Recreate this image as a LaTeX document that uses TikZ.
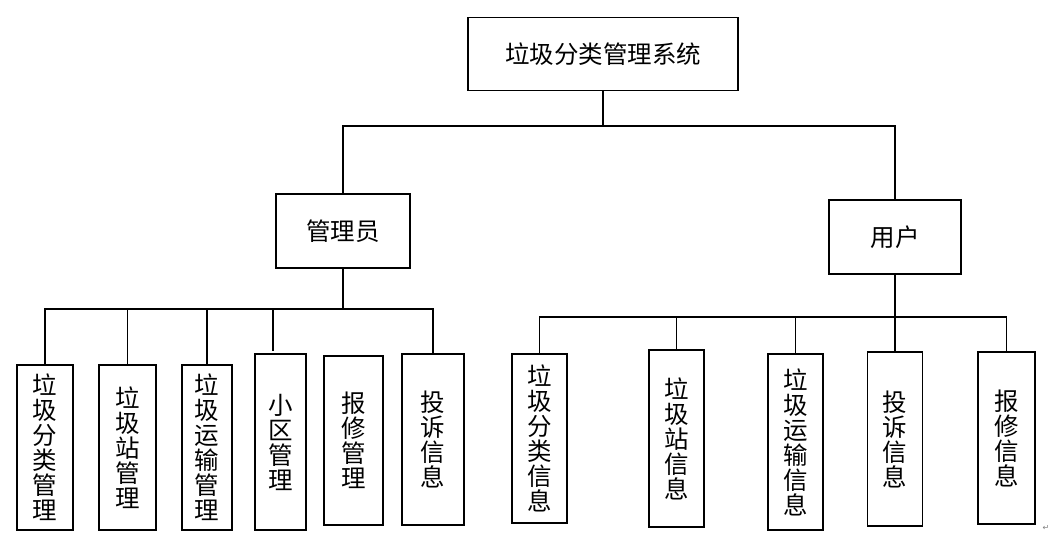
\documentclass[tikz,border=0pt]{standalone}
\usepackage{fontspec}
\newfontfamily\cjk{Noto Sans CJK SC}
\newfontfamily\symfont{DejaVu Sans}
\begin{document}
\begin{tikzpicture}[x=1pt,y=-1pt,
  box/.style={draw=black,line width=1.6pt,fill=white,inner sep=0pt,align=center,
    font=\cjk\fontsize{24.5}{25}\selectfont},
  conn/.style={draw=black,line width=1.4pt}]
\useasboundingbox[fill=white] (0,0) rectangle (1057,542);
% top
\node[box,minimum width=270,minimum height=73] (top) at (603,54) {垃圾分类管理系统};
\node[box,minimum width=134,minimum height=74] (admin) at (343,231) {管理员};
\node[box,minimum width=132,minimum height=74] (user) at (895,237) {用户};
% admin children
\node[box,minimum width=56,minimum height=165] (a1) at (45,447.5) {垃\\圾\\分\\类\\管\\理};
\node[box,minimum width=57,minimum height=165] (a2) at (127.5,447.5) {垃\\圾\\站\\管\\理};
\node[box,minimum width=50,minimum height=165] (a3) at (207,447.5) {垃\\圾\\运\\输\\管\\理};
\node[box,minimum width=51,minimum height=176] (a4) at (280.5,442) {小\\区\\管\\理};
\node[box,minimum width=59,minimum height=169] (a5) at (353.5,440.5) {报\\修\\管\\理};
\node[box,minimum width=62,minimum height=171] (a6) at (433,439.5) {投\\诉\\信\\息};
% user children
\node[box,minimum width=55,minimum height=169] (r1) at (539.5,438.5) {垃\\圾\\分\\类\\信\\息};
\node[box,minimum width=55,minimum height=177] (r2) at (676.5,438.5) {垃\\圾\\站\\信\\息};
\node[box,minimum width=55,minimum height=176] (r3) at (795.5,442) {垃\\圾\\运\\输\\信\\息};
\node[box,minimum width=55,minimum height=174] (r4) at (895,439) {投\\诉\\信\\息};
\node[box,minimum width=57,minimum height=172] (r5) at (1006.5,438) {报\\修\\信\\息};
% junctions
\coordinate (j0) at (603,126);
\coordinate (ja) at (343,309);
\coordinate (ju) at (895,317);
\coordinate (a4t) at (273,351);
% connectors
\draw[conn] (top.south) -- (j0);
\draw[conn] (j0) -| (admin.north);
\draw[conn] (j0) -| (user.north);
\draw[conn] (admin.south) -- (ja);
\draw[conn] (ja) -| (a1.north);
\draw[conn] (ja) -| (a2.north);
\draw[conn] (ja) -| (a3.north);
\draw[conn] (ja) -| (a4t);
\draw[conn] (ja) -| (a6.north);
\draw[conn] (user.south) -- (ju);
\draw[conn] (ju) -| (r1.north);
\draw[conn] (ju) -| (r2.north);
\draw[conn] (ju) -| (r3.north);
\draw[conn] (ju) -| (r4.north);
\draw[conn] (ju) -| (r5.north);
% return mark
\node[text=gray,font=\symfont\fontsize{8}{8}\selectfont,inner sep=0pt] (ret) at (1046,528) {↵};
\end{tikzpicture}
\end{document}
